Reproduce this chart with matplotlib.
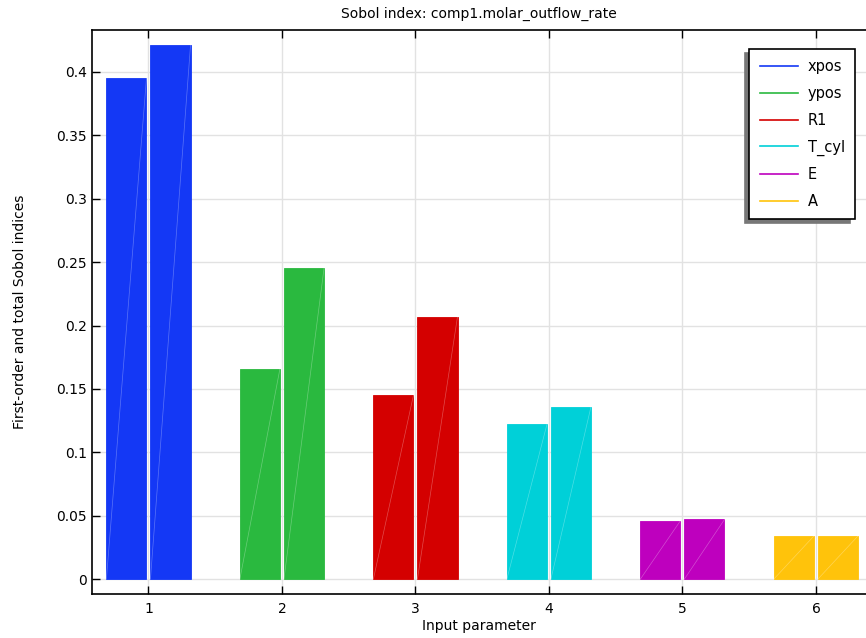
import numpy as np
import matplotlib.pyplot as plt
from matplotlib.lines import Line2D
from matplotlib.ticker import FuncFormatter

# Datos
params = ["xpos", "ypos", "R1", "T_cyl", "E", "A"]
first_order = [0.395, 0.166, 0.145, 0.122, 0.046, 0.034]
total = [0.421, 0.245, 0.207, 0.136, 0.047, 0.034]
colors = ["#1438f5", "#2ab93f", "#d40000", "#00d0d8", "#be00be", "#ffc30b"]

x = np.arange(1, len(params) + 1)
w = 0.3
off = 0.165

fig = plt.figure(figsize=(8.66, 6.38), dpi=100)
ax = fig.add_axes([92 / 866, 44 / 638, 774 / 866, 564 / 638])

for xi, f, t, c in zip(x, first_order, total, colors):
    for xc, v in ((xi - off, f), (xi + off, t)):
        ax.bar(xc, v, width=w, color=c, edgecolor=c, linewidth=0.6, zorder=2)
        # linea diagonal tenue dentro de la barra
        ax.plot([xc - w / 2, xc + w / 2], [0, v], color="white", lw=0.5,
                alpha=0.3, zorder=3)

ax.set_xlim(0.577, 6.375)
ax.set_ylim(-0.0118, 0.4331)
ax.set_xticks(x)
ax.set_yticks(np.arange(0, 0.41, 0.05))
ax.yaxis.set_major_formatter(FuncFormatter(lambda v, p: "%g" % round(v, 3)))
ax.grid(True, color="#e2e2e2", lw=1, zorder=0)
ax.set_axisbelow(True)
ax.tick_params(direction="in", length=6, width=1, labelsize=10, top=True,
               colors="black")
ax.tick_params(axis="x", pad=6)
ax.spines["right"].set_visible(False)
for s in ("left", "bottom", "top"):
    ax.spines[s].set_linewidth(1.2)

ax.set_title("Sobol index: comp1.molar_outflow_rate", fontsize=10, pad=9)
ax.set_xlabel("Input parameter", fontsize=10, labelpad=2)
ax.set_ylabel("First-order and total Sobol indices", fontsize=10, labelpad=21)

handles = [Line2D([0], [0], color=c, lw=1.2) for c in colors]
leg = ax.legend(handles, params, loc="upper right", bbox_to_anchor=(0.986, 0.966),
                borderaxespad=0, fontsize=10.5, frameon=True, fancybox=False,
                edgecolor="black", framealpha=1, handlelength=2.6,
                labelspacing=0.8, borderpad=0.7, handletextpad=0.7,
                shadow={"ox": -3.5, "oy": -3, "facecolor": "#777777",
                        "edgecolor": "#777777", "alpha": 1})
leg.get_frame().set_linewidth(1.2)

plt.savefig("out.png", dpi=100)
